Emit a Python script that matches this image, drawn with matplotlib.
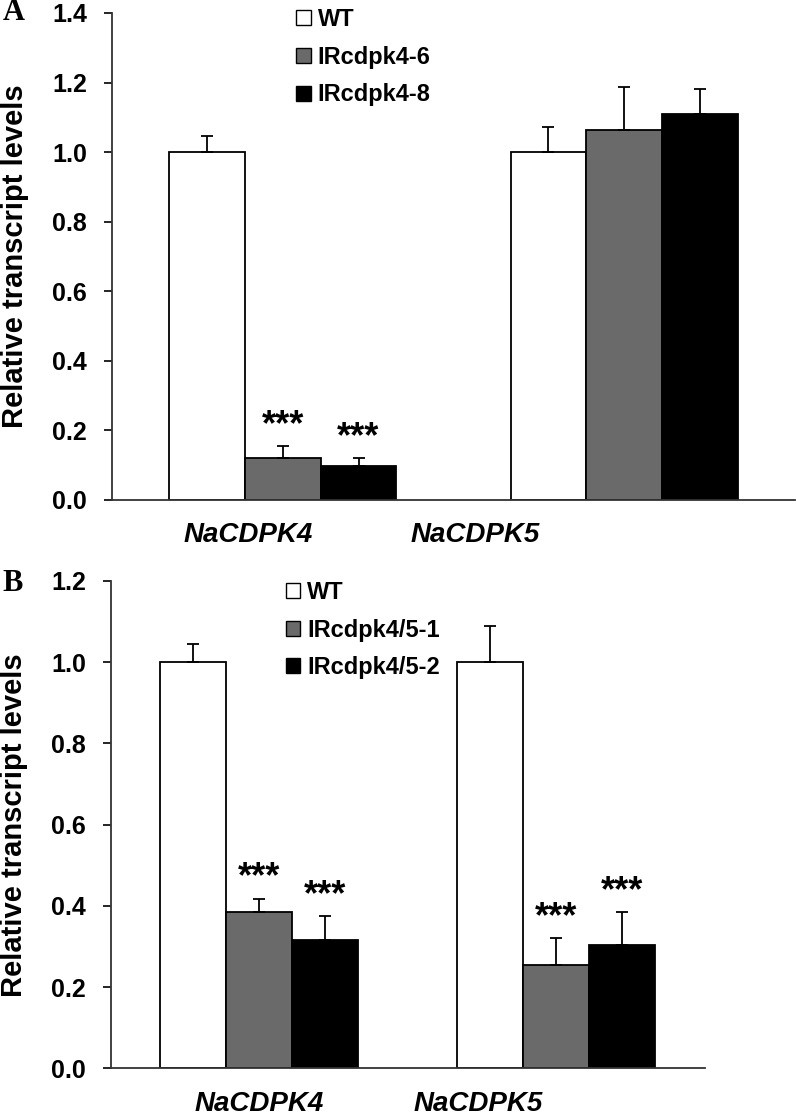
import numpy as np
import matplotlib.pyplot as plt
from matplotlib.patches import Patch

plt.rcParams['font.family'] = ['Liberation Sans', 'DejaVu Sans']
plt.rcParams['font.weight'] = 'bold'

genes = ['NaCDPK4', 'NaCDPK5']

# panel A
labels_a = ['WT', 'IRcdpk4-6', 'IRcdpk4-8']
means_a = [[1.00, 1.00], [0.12, 1.064], [0.098, 1.11]]
errs_a = [[0.046, 0.073], [0.035, 0.124], [0.022, 0.071]]
stars_a = [['', ''], ['***', ''], ['***', '']]

# panel B
labels_b = ['WT', 'IRcdpk4/5-1', 'IRcdpk4/5-2']
means_b = [[1.00, 1.00], [0.386, 0.255], [0.316, 0.305]]
errs_b = [[0.046, 0.089], [0.032, 0.065], [0.059, 0.08]]
stars_b = [['', ''], ['***', '***'], ['***', '***']]

colors = ['white', '#6a6a6a', 'black']
width = 0.222

fig = plt.figure(figsize=(7.97, 11.16), dpi=100)
axA = fig.add_axes([0.1405, 0.552, 0.857, 0.4364])
axB = fig.add_axes([0.139, 0.0426, 0.745, 0.4368])


def panel(ax, means, errs, stars, labels, ymax, lab_pos, leg_x, leg_y,
          ylab_x, letter_x, letter_y, letter):
    x = np.arange(len(genes))
    handles = []
    for i in range(3):
        xs = x + (i - 1) * width
        ax.bar(xs, means[i], width, color=colors[i], edgecolor='black',
               linewidth=1.3, zorder=2)
        ax.errorbar(xs, means[i], yerr=[np.zeros(len(genes)), errs[i]],
                    fmt='none', ecolor='black', elinewidth=1.3, capsize=4,
                    capthick=1.3, zorder=3)
        for j in range(len(genes)):
            if stars[i][j]:
                ax.text(xs[j], means[i][j] + errs[i][j] + 0.008, stars[i][j],
                        ha='center', va='bottom', fontsize=26,
                        fontweight='bold')
        handles.append(Patch(facecolor=colors[i], edgecolor='black',
                             linewidth=1.0))
    ax.set_xlim(-0.5, len(genes) - 0.5)
    ax.set_ylim(0, ymax)
    ticks = np.arange(0, ymax + 0.01, 0.2)
    ax.set_yticks(ticks)
    ax.set_yticklabels(['%.1f' % v for v in ticks],
                       fontsize=18, fontweight='bold')
    ax.set_xticks(lab_pos)
    ax.set_xticklabels(genes, fontsize=20, fontweight='bold', style='italic')
    ax.tick_params(axis='x', length=0, pad=16)
    ax.tick_params(axis='y', length=6, width=1.2, direction='out', pad=12)
    for s in ['top', 'right']:
        ax.spines[s].set_visible(False)
    for s in ['left', 'bottom']:
        ax.spines[s].set_linewidth(1.3)
        ax.spines[s].set_color('#333333')
    ax.set_ylabel('Relative transcript levels', fontsize=21,
                  fontweight='bold')
    ax.yaxis.set_label_coords(ylab_x, 0.5)
    ax.legend(handles, labels, loc='upper left',
              bbox_to_anchor=(leg_x, leg_y),
              frameon=False, fontsize=17, handlelength=0.6,
              handleheight=0.6, handletextpad=0.3, labelspacing=0.62,
              borderpad=0, borderaxespad=0)
    ax.text(letter_x, letter_y, letter, transform=ax.transAxes, fontsize=22,
            fontweight='bold', family='Liberation Serif', ha='left',
            va='center')


panel(axA, means_a, errs_a, stars_a, labels_a, 1.4, [-0.1, 0.563],
      0.27, 1.01, -0.122, -0.16, 1.0, 'A')
panel(axB, means_b, errs_b, stars_b, labels_b, 1.2, [0.0, 0.736],
      0.295, 1.0, -0.139, -0.182, 0.994, 'B')

fig.savefig('out.png', dpi=100)
